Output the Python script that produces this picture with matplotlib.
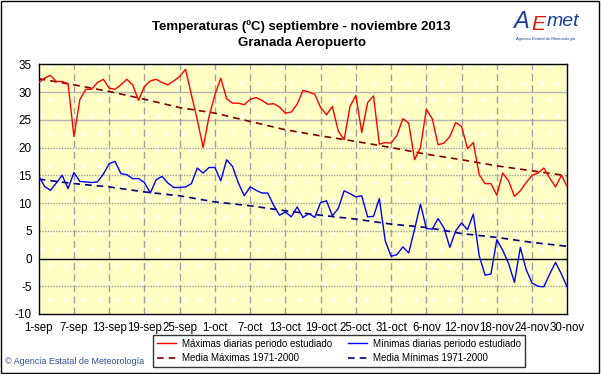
import numpy as np
import matplotlib
matplotlib.use('Agg')
import matplotlib.pyplot as plt
from matplotlib.patches import Rectangle

plt.rcParams['font.family'] = ['Liberation Sans', 'DejaVu Sans']
plt.rcParams['hatch.color'] = '#fffff4'
plt.rcParams['hatch.linewidth'] = 0.6

# Datos diarios 1-sep .. 30-nov 2013 (91 dias)
t_max = [31.7, 32.5, 33.0, 31.9, 31.9, 31.5, 22.0, 28.6, 30.5, 30.5,
         31.7, 32.3, 30.7, 30.5, 31.3, 32.3, 31.3, 28.5, 31.0, 32.0,
         32.3, 31.7, 31.3, 32.0, 32.8, 34.1, 29.5, 25.0, 20.0, 25.6,
         29.5, 32.5, 28.8, 28.0, 28.0, 27.7, 28.7, 29.0, 28.5, 27.8,
         27.9, 27.3, 26.2, 26.4, 27.8, 30.3, 30.0, 29.6, 27.2, 25.9,
         27.4, 23.0, 21.4, 27.4, 29.4, 22.7, 28.1, 29.3, 20.6, 20.9,
         20.8, 22.2, 25.2, 24.4, 17.8, 20.0, 26.9, 25.2, 20.5, 20.8,
         22.0, 24.5, 23.8, 19.8, 20.9, 15.1, 13.5, 13.5, 11.4, 15.4,
         14.0, 11.2, 12.2, 13.7, 15.0, 15.4, 16.3, 14.5, 12.9, 15.0,
         12.9]
t_min = [14.9, 13.0, 12.3, 13.6, 15.0, 12.6, 15.5, 13.9, 13.8, 13.7,
         13.8, 15.2, 17.1, 17.5, 15.3, 15.1, 14.4, 14.4, 13.7, 11.8,
         14.2, 14.8, 13.6, 12.8, 12.8, 12.9, 13.5, 16.3, 15.4, 16.4,
         16.4, 14.0, 17.8, 16.6, 13.6, 11.3, 12.9, 12.3, 11.8, 11.8,
         9.6, 7.8, 8.4, 7.5, 9.3, 7.4, 8.1, 7.4, 10.1, 10.4,
         7.7, 9.0, 12.2, 11.7, 11.1, 11.3, 7.5, 7.6, 10.8, 3.2,
         0.4, 0.7, 2.1, 1.0, 5.3, 9.8, 5.4, 5.3, 7.2, 5.5,
         2.0, 5.0, 6.4, 5.2, 8.0, 0.5, -3.0, -2.8, 3.4, 1.5,
         -0.9, -4.3, 2.0, -2.0, -4.4, -5.0, -5.1, -2.8, -0.7, -2.8,
         -5.2]

# Medias 1971-2000 leidas cada 6 dias
media_dias = [0, 6, 12, 18, 24, 30, 36, 42, 48, 54, 60, 66, 72, 78, 84, 90]
media_max = [32.4, 31.3, 30.1, 28.7, 27.2, 26.2, 24.7, 23.2, 22.1, 21.1,
             20.0, 18.8, 17.8, 16.7, 15.8, 14.9]
media_min = [14.3, 13.5, 12.9, 12.0, 11.3, 10.2, 9.5, 8.6, 7.8, 7.1,
             6.2, 5.6, 4.5, 3.8, 2.9, 2.2]

etiquetas_x = ['1-sep', '7-sep', '13-sep', '19-sep', '25-sep', '1-oct',
               '7-oct', '13-oct', '19-oct', '25-oct', '31-oct', '6-nov',
               '12-nov', '18-nov', '24-nov', '30-nov']
ticks_y = [-10, -5, 0, 5, 10, 15, 20, 25, 30, 35]

dias = np.arange(len(t_max))

fig = plt.figure(figsize=(6.01, 3.74), dpi=100)
ax = fig.add_axes([38.7 / 601, 1 - 314 / 374, (567.3 - 38.7) / 601, (314 - 64.3) / 374])
ax.set_facecolor('#ffffc4')
ax.patch.set_hatch('.')
ax.patch.set_edgecolor('#fffff4')

# Rejilla
for v in ticks_y[1:-1]:
    if v == 0:
        ax.axhline(v, color='black', lw=1.0, zorder=1)
    elif v in (25, 30):
        ax.axhline(v, color='#b4b4b4', lw=1.0, zorder=1)
    else:
        ax.axhline(v, color='#a0a0a0', lw=1.0, ls=(0, (1, 1)), zorder=1)
for d in media_dias[1:-1]:
    ax.axvline(d, color='#a0a0a0', lw=1.0, ls=(0, (5, 3)), zorder=1)

l1, = ax.plot(dias, t_max, color='#ff0000', lw=1.0, zorder=3)
l2, = ax.plot(dias, t_min, color='#0000ff', lw=1.0, zorder=3)
l3, = ax.plot(media_dias, media_max, color='#800000', lw=1.2, ls=(0, (4, 3)), zorder=2)
l4, = ax.plot(media_dias, media_min, color='#000080', lw=1.2, ls=(0, (4, 3)), zorder=2)

ax.set_xlim(0, 90)
ax.set_ylim(-10, 35)
ax.set_xticks(media_dias)
ax.set_xticklabels(etiquetas_x, fontsize=8.3)
ax.set_yticks(ticks_y)
ax.set_yticklabels([str(v) for v in ticks_y], fontsize=8.5)
ax.tick_params(axis='x', length=0, pad=6)
ax.tick_params(axis='y', length=0, pad=5)
for s in ax.spines.values():
    s.set_color('black')
    s.set_linewidth(1.0)

fig.text(0.502, 1 - 27 / 374, 'Temperaturas (ºC) septiembre - noviembre 2013',
         ha='center', va='center', fontsize=9.5, fontweight='bold')
fig.text(0.502, 1 - 43 / 374, 'Granada Aeropuerto',
         ha='center', va='center', fontsize=9.5, fontweight='bold')

# Logo AEMET aproximado
fig.text(513 / 601, 1 - 21 / 374, 'A', color='#1a3c9c', fontsize=17, style='italic', va='center')
fig.text(531 / 601, 1 - 24 / 374, 'E', color='#d81e05', fontsize=15, style='italic', va='center')
fig.text(547 / 601, 1 - 21 / 374, 'met', color='#1a3c9c', fontsize=14, style='italic', va='center')
fig.text(516 / 601, 1 - 40 / 374, 'Agencia Estatal de Meteorología', color='#1a3c9c', fontsize=3)

fig.text(5 / 601, 1 - 361 / 374, '© Agencia Estatal de Meteorología', color='#3050a0',
         fontsize=6.5, va='center')

leg = fig.legend([l1, l3, l2, l4],
                 ['Máximas diarias periodo estudiado', 'Media Máximas 1971-2000',
                  'Mínimas diarias periodo estudiado', 'Media Mínimas 1971-2000'],
                 ncol=2, fontsize=7, loc='center', bbox_to_anchor=(339 / 601, 1 - 351 / 374),
                 frameon=True, fancybox=False, handlelength=2.0, handletextpad=0.6,
                 columnspacing=1.6, labelspacing=0.45, borderpad=0.35)
leg.get_frame().set_edgecolor('black')
leg.get_frame().set_linewidth(1.0)

fig.patches.append(Rectangle((0.002, 0.003), 0.995, 0.994, transform=fig.transFigure,
                             fill=False, edgecolor='black', lw=1.0))

fig.savefig('out.png', dpi=100)
